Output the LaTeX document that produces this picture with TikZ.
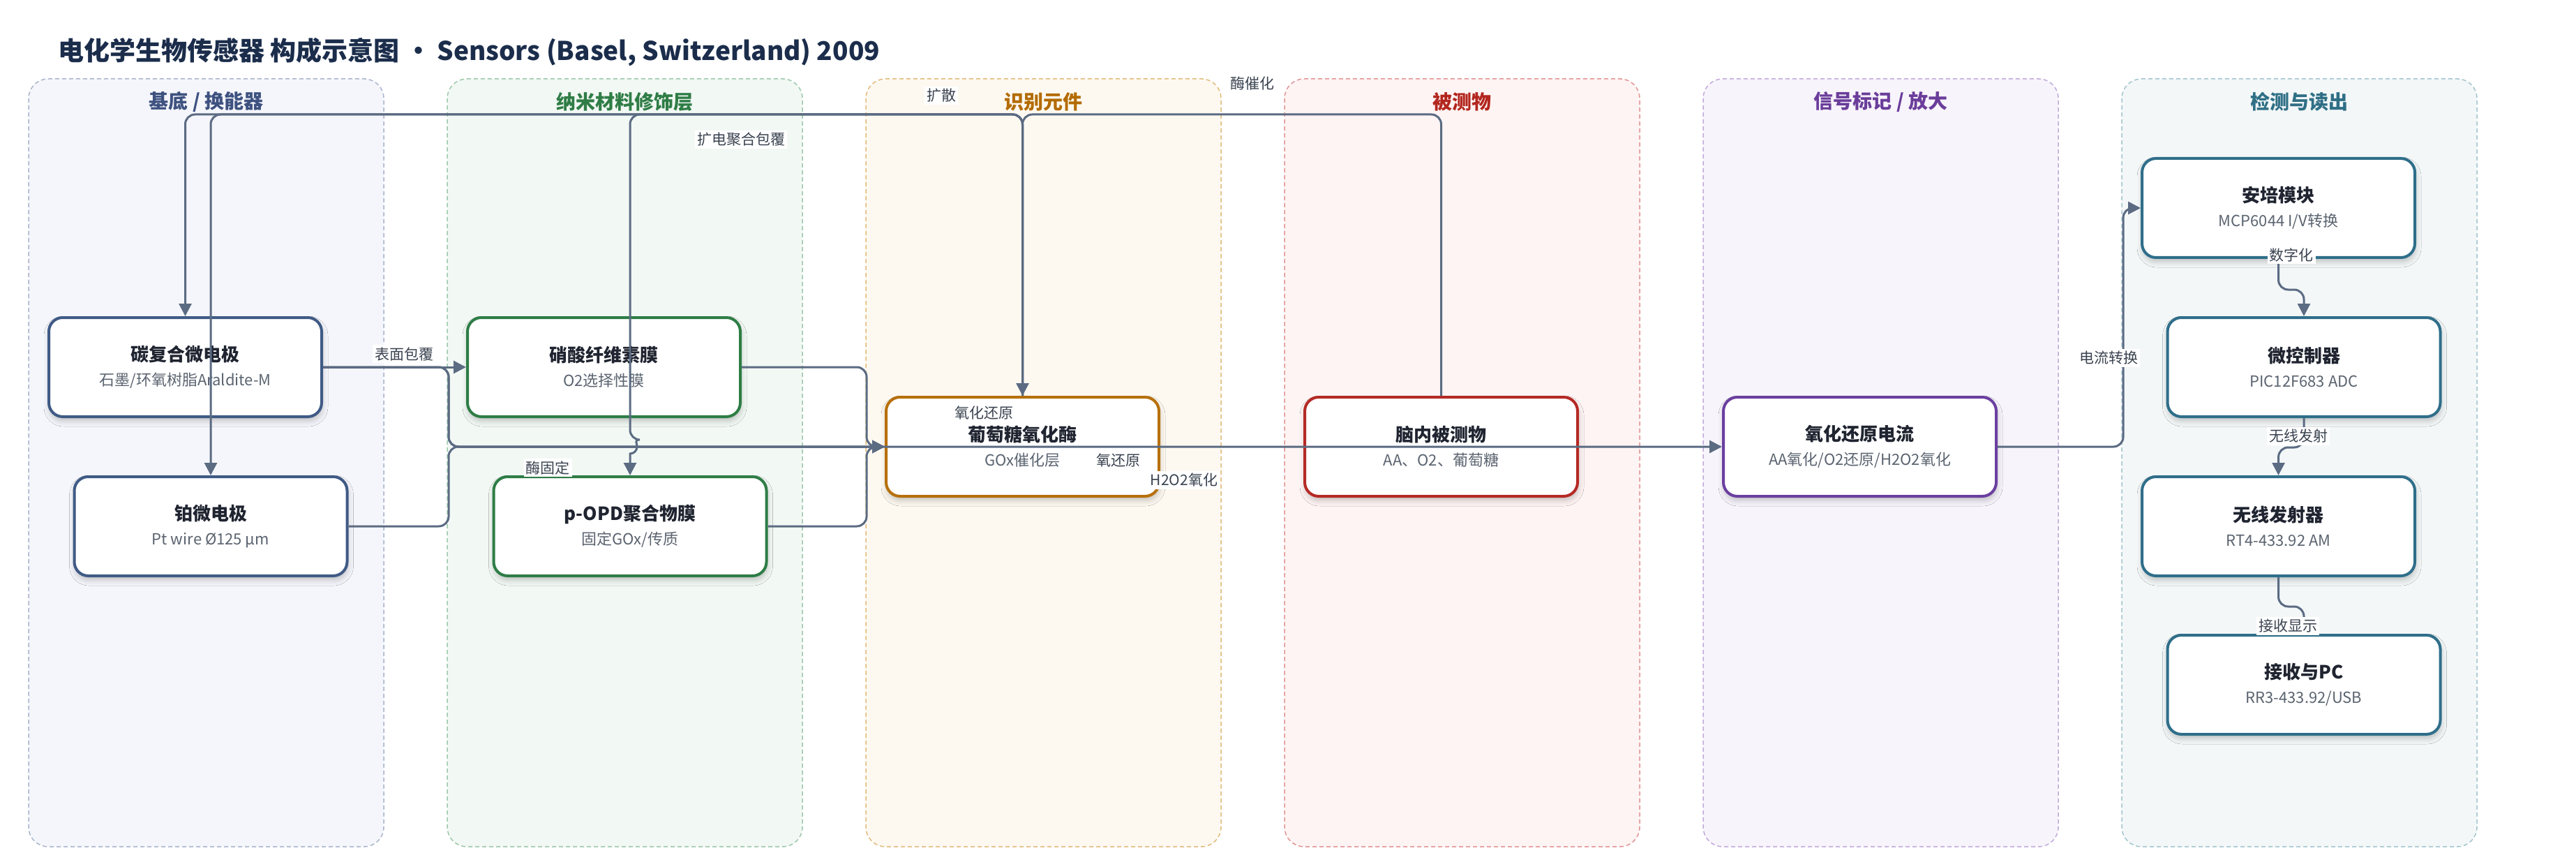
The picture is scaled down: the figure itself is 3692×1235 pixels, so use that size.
\documentclass[tikz,border=0pt]{standalone}
\usepackage{fontspec}
\setmainfont{Noto Sans CJK SC}
\usetikzlibrary{arrows.meta,shadows.blur}

\definecolor{inkNavy}{HTML}{1B2D4B}
\definecolor{inkTitle}{HTML}{1F2430}
\definecolor{inkSub}{HTML}{5B6470}
\definecolor{inkLabel}{HTML}{3A4350}
\definecolor{wire}{HTML}{5B6B82}

\definecolor{laneAfill}{HTML}{F5F6FB}
\definecolor{laneAline}{HTML}{A9B5CC}
\definecolor{laneAtext}{HTML}{3E5280}
\definecolor{laneBfill}{HTML}{F2F8F4}
\definecolor{laneBline}{HTML}{9CC8AA}
\definecolor{laneBtext}{HTML}{2F7D46}
\definecolor{laneCfill}{HTML}{FDF9F1}
\definecolor{laneCline}{HTML}{E2BA7C}
\definecolor{laneCtext}{HTML}{B36B00}
\definecolor{laneDfill}{HTML}{FDF4F3}
\definecolor{laneDline}{HTML}{E29494}
\definecolor{laneDtext}{HTML}{B3261E}
\definecolor{laneEfill}{HTML}{F7F4FB}
\definecolor{laneEline}{HTML}{C2AADA}
\definecolor{laneEtext}{HTML}{6A3D9A}
\definecolor{laneFfill}{HTML}{F3F7F8}
\definecolor{laneFline}{HTML}{A2C5CE}
\definecolor{laneFtext}{HTML}{2F6F86}

\definecolor{boxA}{HTML}{3F5A85}
\definecolor{boxB}{HTML}{2E7D46}
\definecolor{boxC}{HTML}{B7700C}
\definecolor{boxD}{HTML}{B52A25}
\definecolor{boxE}{HTML}{6B3FA0}
\definecolor{boxF}{HTML}{2F6E8A}

\newcommand*{\LaneW}{509}
\newcommand*{\DrawLanes}[1]{% #1 = list of index/fill/line/text/title
  \foreach \i/\fillc/\linec/\textc/\title in {#1} {
    \draw [fill=\fillc, draw=\linec, line width=.75pt, dash pattern=on 3pt off 2pt, rounded corners=14pt]
      (41+600*\i,113) rectangle (41+600*\i+\LaneW,1213);
    \node [font=\bfseries\fontsize{14}{16}\selectfont, text=\textc] (lane\i)
      at (41+600*\i+\LaneW/2,146) {\title};
    }%
}
\newcommand*{\BoxText}[2]{{\bfseries\fontsize{13}{17.5}\selectfont\color{inkTitle}#1}\\#2}

\begin{document}
\begin{tikzpicture}[x=0.5pt,y=-0.5pt,
    partbox/.style={draw=#1, fill=white, line width=2pt, rounded corners=10pt,
      minimum width=195.5pt, minimum height=71pt, inner sep=0pt, align=center,
      text=inkSub, font=\fontsize{11}{17.5}\selectfont,
      blur shadow={shadow xshift=.5pt, shadow yshift=-3pt, shadow blur radius=4pt, shadow opacity=22}},
    conn/.style={draw=wire, line width=1.5pt, rounded corners=7pt},
    arr/.style={conn, -{Triangle[length=9pt,width=9pt]}},
    elabel/.style={fill=white, inner sep=1.5pt, text=inkLabel, font=\fontsize{10.5}{12}\selectfont}]

    \fill[white] (0,0) rectangle (3692,1235);
    \useasboundingbox (0,0) rectangle (3692,1235);

    \node [anchor=west, font=\bfseries\fontsize{18.5}{22}\selectfont, text=inkNavy] (title) at (76,75)
      {电化学生物传感器 构成示意图 · Sensors (Basel, Switzerland) 2009};

    \DrawLanes{
        0/laneAfill/laneAline/laneAtext/{基底 / 换能器},
        1/laneBfill/laneBline/laneBtext/{纳米材料修饰层},
        2/laneCfill/laneCline/laneCtext/{识别元件},
        3/laneDfill/laneDline/laneDtext/{被测物},
        4/laneEfill/laneEline/laneEtext/{信号标记 / 放大},
        5/laneFfill/laneFline/laneFtext/{检测与读出}
    }

    \node [partbox=boxA] (cfe) at (265.5,526) {\BoxText{碳复合微电极}{石墨/环氧树脂Araldite-M}};
    \node [partbox=boxA] (pte) at (302,754) {\BoxText{铂微电极}{Pt wire Ø125 μm}};
    \node [partbox=boxB] (ncm) at (865.5,526) {\BoxText{硝酸纤维素膜}{O2选择性膜}};
    \node [partbox=boxB] (opd) at (903,754) {\BoxText{p-OPD聚合物膜}{固定GOx/传质}};
    \node [partbox=boxC] (gox) at (1465.5,640) {\BoxText{葡萄糖氧化酶}{GOx催化层}};
    \node [partbox=boxD] (brain) at (2065.5,640) {\BoxText{脑内被测物}{AA、O2、葡萄糖}};
    \node [partbox=boxE] (redox) at (2665.5,640) {\BoxText{氧化还原电流}{AA氧化/O2还原/H2O2氧化}};
    \node [partbox=boxF] (amp) at (3265.5,298) {\BoxText{安培模块}{MCP6044 I/V转换}};
    \node [partbox=boxF] (mcu) at (3302,526) {\BoxText{微控制器}{PIC12F683 ADC}};
    \node [partbox=boxF] (tx) at (3265.5,754) {\BoxText{无线发射器}{RT4-433.92 AM}};
    \node [partbox=boxF] (rx) at (3302,981) {\BoxText{接收与PC}{RR3-433.92/USB}};

    \coordinate (topy) at (0,164);
    \coordinate (j1) at (643,640);
    \coordinate (j2) at (1242,640);
    \coordinate (j3) at (3043,298);

    \draw [arr] (brain.north) |- (gox.north |- topy) -- (gox.north);
    \draw [arr] (gox.north) |- (cfe.north |- topy) -- (cfe.north);
    \draw [arr] (gox.north) |- (pte.north |- topy) -- (pte.north);
    \draw [arr] (gox.north) |- (opd.north |- topy) -- (903,630) [sharp corners]
      arc [start angle=-90, end angle=90, radius=10] -- (opd.north);

    \draw [arr] (cfe.east) -- (ncm.west);
    \draw [arr] (cfe.east) -| (j1) -- (gox.west);
    \draw [arr] (pte.east) -| (j1) -- (gox.west);
    \draw [arr] (ncm.east) -| (j2) -- (gox.west);
    \draw [arr] (opd.east) -| (j2) -- (gox.west);
    \draw [arr] (cfe.east) -| (j1) -- (redox.west);
    \draw [arr] (redox.east) -| (j3) -- (amp.west);

    \draw [arr] (amp.south) -- ++(0,44) -| (mcu.north);
    \draw [arr] (mcu.south) -- ++(0,42) -| (tx.north);
    \draw [arr] (tx.south) -- ++(0,42) -| (rx.north);

    \node [elabel] (lb-coat) at (579,507) {表面包覆};
    \node [elabel] (lb-poly) at (1062,200) {扩电聚合包覆};
    \node [elabel] (lb-fix) at (785,670) {酶固定};
    \node [elabel] (lb-diff) at (1349,137) {扩散};
    \node [elabel] (lb-cat) at (1795,120) {酶催化};
    \node [elabel] (lb-redox) at (1410,592) {氧化还原};
    \node [elabel] (lb-o2) at (1603,660) {氧还原};
    \node [elabel] (lb-h2o2) at (1697,688) {H2O2氧化};
    \node [elabel] (lb-cur) at (3022,513) {电流转换};
    \node [elabel] (lb-dig) at (3284,365) {数字化};
    \node [elabel] (lb-tx) at (3294,625) {无线发射};
    \node [elabel] (lb-rx) at (3279,897) {接收显示};
\end{tikzpicture}
\end{document}
